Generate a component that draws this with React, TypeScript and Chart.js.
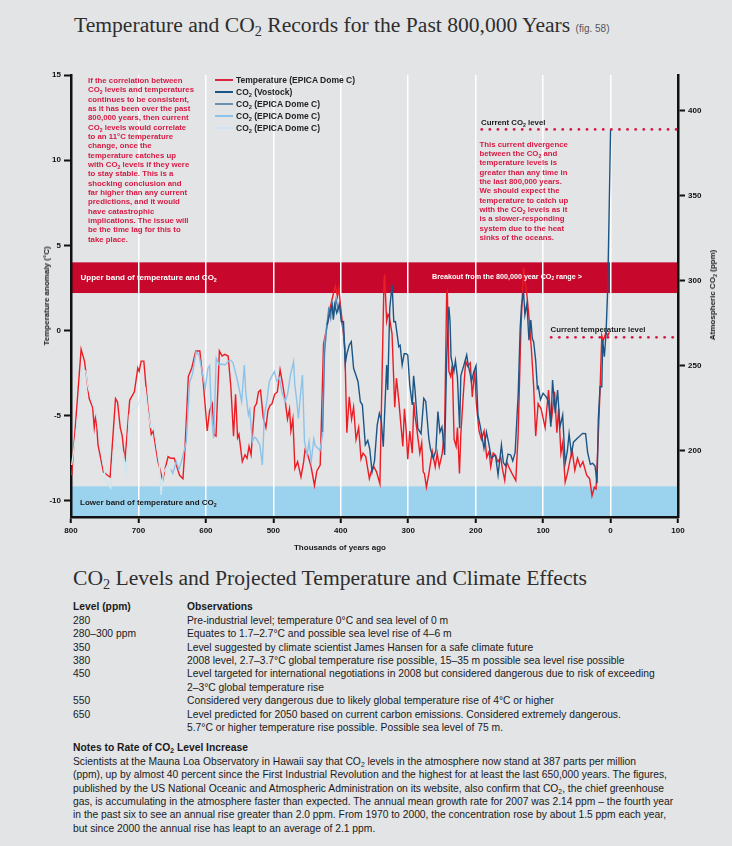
import React, { useEffect, useRef } from "react";
import { Chart, registerables } from "chart.js";

Chart.register(...registerables);

type Pt = [number, number];

// ---- DATA (age in thousands of years ago, value) ----
const temperatureEpica: Pt[] = [
  [799,-8.5],[785,-1.1],[780,-1.8],[773,-4.0],[768,-4.5],[765.5,-5.7],[763,-4.9],[760,-6.7],[752,-8.3],[746,-8.5],[742,-8.6],
  [734,-4.0],[731,-4.2],[727,-5.7],[724,-6.2],[720,-7.7],[713,-4.1],[706,-3.6],[701,-2.2],[699,-2.4],[696,-1.8],[692,-1.8],
  [689,-3.2],[686,-4.5],[681,-6.1],[678,-5.9],[675,-6.7],[671,-7.7],[664,-8.8],[661,-8.2],[656,-7.4],[652,-7.5],[647,-7.5],
  [639,-8.5],[634,-8.7],[631,-6.9],[626,-2.7],[621,-2.2],[615,-1.2],[609,-1.2],[604,-3.0],[598,-5.9],[594.5,-4.7],[590.6,-4.3],
  [588,-6.1],[585,-6.2],[580,-1.2],[576,-1.5],[572,-1.4],[567,-1.5],[563,-3.3],[559,-6.2],[556,-3.75],[553,-6.3],[551,-6.1],
  [546,-7.7],[542,-7.3],[539,-7.5],[536,-6.8],[533,-7.3],[528,-4.5],[525,-4.3],[522,-3.6],[519,-3.5],[515,-5.1],[511,-5.7],
  [508,-4.7],[505,-4.4],[502,-4.3],[498,-3.75],[494,-3.6],[490,-2.3],[486,-3.2],[482.5,-4.1],[479,-5.2],[476,-4.6],[474,-5.9],
  [471,-5.2],[468,-8.1],[464,-7.7],[459,-8.6],[455,-7.7],[453,-7.0],[449,-7.3],[444,-8.0],[439,-9.1],[435.5,-8.25],[430.5,-7.9],
  [425.6,-0.8],[420.6,0.2],[416,1.3],[410.7,2.2],[408,2.6],[405,2.0],[403,2.5],[398,0.55],[394,-1.0],[391,-6.0],[387.4,-3.9],
  [384,-5.2],[381,-4.5],[377.4,-6.4],[373.5,-5.7],[370,-7.55],[367,-7.2],[363,-7.4],[357.6,-8.7],[355,-8.3],[351,-8.0],[347,-8.3],
  [342,-9.0],[336,2.8],[335,3.3],[332,0.55],[330,0.95],[328,0.8],[324,-0.2],[320,-4.5],[317.5,-2.8],[314,-4.1],[310.5,-5.7],
  [308,-6.8],[305.6,-4.6],[303,-5.9],[300.7,-7.55],[297.7,-5.9],[294,-7.2],[291.7,-4.2],[290,-5.0],[287.5,-5.7],[282.8,-7.2],
  [280,-6.6],[277.8,-8.3],[276,-8.4],[273,-9.2],[269,-8.3],[264.4,-7.1],[260,-8.0],[257,-7.2],[254,-8.0],[249.5,-7.2],[246,-5.7],
  [243,2.2],[242,2.3],[239.7,-2.4],[237,-2.7],[234.7,-2.0],[232,-6.4],[229,-6.8],[227,-5.7],[224,-8.4],[222,-6.1],[218.3,-3.75],
  [214.8,-1.8],[212,-2.1],[208,-1.9],[205,-3.9],[201.5,-2.3],[199,-4.3],[195,-5.9],[191.5,-6.4],[187.5,-5.9],[183.6,-7.45],
  [180,-7.1],[177.7,-8.0],[174,-7.2],[171,-7.3],[167,-7.7],[162.8,-7.45],[160.5,-8.1],[156.9,-8.8],[154,-7.7],[151,-8.0],
  [146,-8.4],[140.5,-8.8],[137,-6.1],[133,0.0],[129,3.7],[127,3.0],[124,2.1],[121,0.8],[117.2,-1.2],[114,-3.3],[111,-6.2],
  [107.4,-4.3],[106,-4.4],[103,-4.6],[97,-5.7],[92,-3.5],[88,-5.4],[83,-3.6],[79.6,-6.0],[77,-4.6],[73.6,-7.2],[71,-6.6],
  [67.3,-8.9],[64,-8.4],[61,-7.8],[57,-7.0],[53,-8.2],[49,-7.5],[45,-8.0],[41,-7.7],[35.4,-8.5],[31,-8.7],[27.5,-9.7],[24,-9.2],
  [21.5,-9.3],[19,-7.0],[15.6,-3.5],[13,-0.3],[11,-0.6],[6.7,-0.1],[4,-0.3],[1.8,-0.1],
];

const co2Vostok: Pt[] = [
  [420,274],[417,279.8],[413,285.7],[411,277],[409,286],[406,281],[402,285.7],[399,275.9],[396,276],[393.3,251.4],[391,257],
  [387.4,262.2],[384.4,264.1],[381,248.5],[378,245],[374.4,240.6],[371,228.8],[368,227],[363.6,203.4],[360,206],[357,201],
  [353.6,187.6],[350,194],[346,215.1],[342.8,222],[340,218],[337,202.4],[332,250.4],[330.4,235.7],[327.4,283.8],[323.9,297.5],
  [321.4,275.9],[319,276],[314,261.2],[312,262],[309,250.4],[306,257],[303,257],[300.7,256.3],[297.7,238.6],[294,226.9],
  [292,244],[290,236],[285.8,213.2],[281,210],[276.9,230.8],[274,229],[269.5,207.3],[267,201],[262.9,195.5],[259,200],
  [256,223],[253,211],[250,214],[246,197.5],[243,254.4],[239.7,284.7],[238,276],[236.5,255],[232.3,246.5],[230,253],[227,243],
  [223.8,213.2],[222,244],[217.4,250.4],[213.3,256.3],[211,250],[208,245],[206.3,240.6],[203,246],[199.5,250],[196.6,221],
  [193,214],[187.7,201.4],[184,211],[180.5,204],[176.7,195.5],[173,197],[170.5,197],[166.8,185.7],[161.8,203.4],[159,193],
  [155.5,191],[152,198],[148,197.5],[145,194],[141.5,199],[137,232.8],[134,272],[132,285.7],[129,293.5],[127,280],[124,286.7],
  [121,265],[118.2,276.9],[116,266],[114,264],[111,253],[108.5,236.7],[107,237.6],[104,230],[100,233.8],[96,232],[92,229],
  [88.5,214.1],[86,241.6],[82,222],[78.5,235.7],[75,214],[71,221],[67.3,192.6],[64,200],[61.5,210],[58,198],[55,205],[50,207],
  [41.4,210.2],[37,210],[34,199],[30,192],[26.5,192.6],[23,191],[20,180.8],[18.2,218],[15.6,237.6],[13,237.6],[11.6,265],
  [9.2,255.3],[6.7,269],[4.1,296.5],[1.8,347.5],[0,388.6],
];

const co2EpicaMid: Pt[] = [
  [427,211],[424,258],[421,272],[418,283],[415,278],[413,287],[410,281],[407,289],[404,283],[402,287],[399,276],[396,270],[393,252],
];

const co2EpicaLight: Pt[] = [
  [652,189],[649,186.7],[644,193.5],[640,189],[636,194],[629,205.3],[624,240.6],[620,245],[614.5,258.2],[610,256],[605,245],
  [601,236.7],[597,248.5],[594.5,250],[592,223],[588.5,207.3],[584.7,254.4],[580,250.4],[576,251],[572,250.4],[564.3,253.4],
  [560,252],[554,242.6],[551,237],[547,228.8],[543,250.4],[541,235],[537,221],[535,224],[531,205.3],[528,208],[525,207],
  [520,203.4],[516.3,191.6],[513.3,221],[510,228],[506,240.6],[502,244],[498.4,246.5],[495,241],[491,243],[487.5,234.7],
  [482.5,228.8],[479,233],[474.6,244.5],[470,252.4],[468,238],[466,232],[462.8,219],[460,232],[456.8,244.5],[453.8,205.3],
  [450,197.5],[447,205.3],[443.9,193.5],[440,207],[438,203],[434,201.4],[431,200],[427,209.2],[424,262.2],[420.6,275.9],
];

const co2EpicaPale: Pt[] = [
  [799,191.6],[793,209],[786,235],[783,248.5],[778,246.5],[775,238],[771.5,232.8],[765.5,225],[762,220],[758,209],[755,200],
  [753,193.5],[748,181.8],[741,178],[736,205],[731,203],[726,201.4],[722,198],[718.5,185.7],[713.5,221],[709,224],[702,226],
  [698.6,228.8],[693.7,236.7],[690,237],[686,223],[682,214],[678,216],[674,205.3],[669,191.6],[666.5,174],[663,187],
  [656.5,191.6],[652,189],
];

const ageTicks = [800, 700, 600, 500, 400, 300, 200, 100, 0, -100];
const tempTicks = [-10, -5, 0, 5, 10, 15];
const co2Ticks = [200, 250, 300, 350, 400];
const upperBand: [number, number] = [2.2, 4.0];
const lowerBand: [number, number] = [-10.95, -9.15];
const currentCo2Level = 389;
const currentCo2From = 191;
const currentTempLevel = -0.4;
const currentTempFrom = 88;

const SANS = '"Liberation Sans", Arial, Helvetica, sans-serif';
const SERIF = '"Liberation Serif", "DejaVu Serif", serif';
const RED_TXT = "#d61a43";
const COLORS = {
  temp: "#ec1c24",
  vostok: "#1c5585",
  mid: "#4f82b2",
  light: "#8cc3ea",
  pale: "#cfe6ee",
};

const toXY = (pts: Pt[]) => pts.map(([x, y]) => ({ x, y }));

const bandPlugin = {
  id: "bands",
  beforeDraw(chart: any) {
    const { ctx, chartArea: a, scales } = chart;
    const y = scales.y;
    ctx.save();
    const u1 = y.getPixelForValue(upperBand[1]);
    const u2 = y.getPixelForValue(upperBand[0]);
    ctx.fillStyle = "#c8072c";
    ctx.fillRect(a.left, u1, a.right - a.left, u2 - u1);
    const l1 = y.getPixelForValue(lowerBand[1]);
    const l2 = y.getPixelForValue(lowerBand[0]);
    ctx.fillStyle = "#9bd3ee";
    ctx.fillRect(a.left, l1, a.right - a.left, l2 - l1);
    ctx.restore();
  },
  afterDatasetsDraw(chart: any) {
    const { ctx, chartArea: a, scales } = chart;
    const dots = (x0: number, yy: number) => {
      ctx.fillStyle = "#d61a43";
      for (let x = x0; x <= a.right - 1; x += 8.1) {
        ctx.beginPath();
        ctx.arc(x, yy, 1.4, 0, Math.PI * 2);
        ctx.fill();
      }
    };
    ctx.save();
    dots(scales.x.getPixelForValue(currentCo2From), scales.y1.getPixelForValue(currentCo2Level));
    dots(scales.x.getPixelForValue(currentTempFrom), scales.y.getPixelForValue(currentTempLevel));
    ctx.restore();
  },
};

const S = () => (
  <sub style={{ fontSize: "0.66em", verticalAlign: "-0.3em", lineHeight: 0 }}>2</sub>
);

const abs = (left: number, top: number, extra: React.CSSProperties = {}): React.CSSProperties => ({
  position: "absolute",
  left,
  top,
  whiteSpace: "nowrap",
  ...extra,
});

function ChartCanvas() {
  const ref = useRef<HTMLCanvasElement | null>(null);
  useEffect(() => {
    if (!ref.current) return;
    const tickFont = { family: SANS, size: 8, weight: "bold" as const };
    const chart = new Chart(ref.current, {
      type: "line",
      data: {
        datasets: [
          { label: "CO2 (Vostock)", data: toXY(co2Vostok), yAxisID: "y1", borderColor: COLORS.vostok, order: 1 },
          { label: "CO2 (EPICA Dome C) a", data: toXY(co2EpicaMid), yAxisID: "y1", borderColor: COLORS.mid, order: 2 },
          { label: "CO2 (EPICA Dome C) b", data: toXY(co2EpicaLight), yAxisID: "y1", borderColor: COLORS.light, order: 3 },
          { label: "CO2 (EPICA Dome C) c", data: toXY(co2EpicaPale), yAxisID: "y1", borderColor: COLORS.pale, order: 4 },
          { label: "Temperature (EPICA Dome C)", data: toXY(temperatureEpica), yAxisID: "y", borderColor: COLORS.temp, order: 5 },
        ] as any,
      },
      options: {
        responsive: false,
        animation: false,
        devicePixelRatio: 1,
        layout: { padding: { top: 15, left: 0, right: 0, bottom: 0 } },
        plugins: { legend: { display: false }, tooltip: { enabled: false } },
        elements: {
          point: { radius: 0 },
          line: { tension: 0, borderWidth: 1.4, fill: false },
        },
        scales: {
          x: {
            type: "linear",
            reverse: true,
            min: -100,
            max: 800,
            afterBuildTicks: (s: any) => {
              s.ticks = ageTicks.map((v) => ({ value: v }));
            },
            afterFit: (s: any) => {
              s.height = 43;
            },
            ticks: {
              callback: (v: any) => String(Math.abs(Number(v))),
              font: tickFont,
              color: "#111",
              padding: 3,
              maxRotation: 0,
              autoSkip: false,
            },
            grid: {
              color: "#ffffff",
              lineWidth: 1.5,
              tickColor: "#111",
              tickWidth: 2,
              tickLength: 6,
              drawOnChartArea: true,
            },
            border: { display: true, color: "#111", width: 2.5 },
          },
          y: {
            type: "linear",
            position: "left",
            min: -10.95,
            max: 15,
            afterBuildTicks: (s: any) => {
              s.ticks = tempTicks.map((v) => ({ value: v }));
            },
            afterFit: (s: any) => {
              s.width = 71;
            },
            ticks: { font: tickFont, color: "#111", padding: 3 },
            grid: { drawOnChartArea: false, color: "#111", tickColor: "#111", tickWidth: 2, tickLength: 7 },
            border: { display: true, color: "#111", width: 2.5 },
          },
          y1: {
            type: "linear",
            position: "right",
            min: 161,
            max: 421,
            afterBuildTicks: (s: any) => {
              s.ticks = co2Ticks.map((v) => ({ value: v }));
            },
            afterFit: (s: any) => {
              s.width = 54;
            },
            ticks: { font: tickFont, color: "#111", padding: 3 },
            grid: { drawOnChartArea: false, color: "#111", tickColor: "#111", tickWidth: 2, tickLength: 7 },
            border: { display: true, color: "#111", width: 2.5 },
          },
        },
      } as any,
      plugins: [bandPlugin],
    });
    return () => chart.destroy();
  }, []);
  return <canvas ref={ref} width={732} height={500} style={{ position: "absolute", left: 0, top: 60, width: 732, height: 500 }} />;
}

const legendItems: { color: string; label: React.ReactNode }[] = [
  { color: "#d9283f", label: <>Temperature (EPICA Dome C)</> },
  { color: COLORS.vostok, label: <>CO<S /> (Vostock)</> },
  { color: "#6a90b4", label: <>CO<S /> (EPICA Dome C)</> },
  { color: COLORS.light, label: <>CO<S /> (EPICA Dome C)</> },
  { color: "#d2e2f0", label: <>CO<S /> (EPICA Dome C)</> },
];

export default function App() {
  const small: React.CSSProperties = { fontFamily: SANS, fontWeight: "bold", fontSize: 7.8, lineHeight: "9.33px" };
  const label8: React.CSSProperties = { fontFamily: SANS, fontWeight: "bold", fontSize: 8, lineHeight: "10px" };
  const body: React.CSSProperties = { fontFamily: SANS, fontSize: 10.3, lineHeight: "13.4px", color: "#1a1a1a" };
  const rows: [string, React.ReactNode][] = [
    ["280", <>Pre-industrial level; temperature 0°C and sea level of 0 m</>],
    ["280–300 ppm", <>Equates to 1.7–2.7°C and possible sea level rise of 4–6 m</>],
    ["350", <>Level suggested by climate scientist James Hansen for a safe climate future</>],
    ["380", <>2008 level, 2.7–3.7°C global temperature rise possible, 15–35 m possible sea level rise possible</>],
    ["450", <>Level targeted for international negotiations in 2008 but considered dangerous due to risk of exceeding<br />2–3°C global temperature rise</>],
    ["550", <>Considered very dangerous due to likely global temperature rise of 4°C or higher</>],
    ["650", <>Level predicted for 2050 based on current carbon emissions. Considered extremely dangerous.<br />5.7°C or higher temperature rise possible. Possible sea level of 75 m.</>],
  ];
  return (
    <div style={{ position: "absolute", left: 0, top: 0, width: 732, height: 846, background: "#e3e4e6", overflow: "hidden", color: "#1a1a1a" }}>
      <div style={abs(74, 12, { fontFamily: SERIF, fontSize: 21.6, lineHeight: "26px", color: "#2e2e2e" })}>
        Temperature and CO<S /> Records for the Past 800,000 Years{" "}
        <span style={{ fontFamily: '"Liberation Sans Narrow", "Liberation Sans", sans-serif', fontSize: 10, color: "#555" }}>(fig. 58)</span>
      </div>

      <ChartCanvas />

      {/* legend */}
      <div style={abs(215, 74, { fontFamily: SANS, fontWeight: "bold", fontSize: 8.5, lineHeight: "12px", color: "#222" })}>
        {legendItems.map((it, i) => (
          <div key={i} style={{ display: "flex", alignItems: "center", height: 12 }}>
            <span style={{ display: "inline-block", width: 18, height: 2, background: it.color, marginRight: 3 }} />
            <span>{it.label}</span>
          </div>
        ))}
      </div>

      {/* left annotation */}
      <div style={abs(88, 76, { ...small, color: RED_TXT })}>
        If the correlation between<br />
        CO<S /> levels and temperatures<br />
        continues to be consistent,<br />
        as it has been over the past<br />
        800,000 years, then current<br />
        CO<S /> levels would correlate<br />
        to an 11°C temperature<br />
        change, once the<br />
        temperature catches up<br />
        with CO<S /> levels if they were<br />
        to stay stable. This is a<br />
        shocking conclusion and<br />
        far higher than any current<br />
        predictions, and it would<br />
        have catastrophic<br />
        implications. The issue will<br />
        be the time lag for this to<br />
        take place.
      </div>

      {/* right annotation */}
      <div style={abs(481, 117.6, { ...small, color: "#1a1a1a" })}>Current CO<S /> level</div>
      <div style={abs(479.5, 139.6, { ...small, color: RED_TXT })}>
        This current divergence<br />
        between the CO<S /> and<br />
        temperature levels is<br />
        greater than any time in<br />
        the last 800,000 years.<br />
        We should expect the<br />
        temperature to catch up<br />
        with the CO<S /> levels as it<br />
        is a slower-responding<br />
        system due to the heat<br />
        sinks of the oceans.
      </div>
      <div style={abs(550.5, 325.3, { ...small, color: "#1a1a1a" })}>Current temperature level</div>

      {/* band labels */}
      <div style={abs(80.5, 272.5, { ...label8, color: "#ffffff" })}>Upper band of temperature and CO<S /></div>
      <div style={abs(432, 272, { ...label8, fontSize: 7.2, color: "#ffffff" })}>Breakout from the 800,000 year CO<S /> range &gt;</div>
      <div style={abs(80, 498, { ...label8, color: "#1a1a1a" })}>Lower band of temperature and CO<S /></div>

      {/* axis titles */}
      <div style={abs(47, 296, { ...label8, transform: "translate(-50%,-50%) rotate(-90deg)" })}>
        Temperature anomaly (°C)
      </div>
      <div style={abs(713, 295, { ...label8, transform: "translate(-50%,-50%) rotate(-90deg)" })}>
        Atmospheric CO<S /> (ppm)
      </div>
      <div style={abs(340, 548, { ...label8, transform: "translate(-50%,-50%)" })}>
        Thousands of years ago
      </div>

      {/* lower section */}
      <div style={abs(73, 565, { fontFamily: SERIF, fontSize: 21.6, lineHeight: "26px", color: "#2e2e2e" })}>
        CO<S /> Levels and Projected Temperature and Climate Effects
      </div>

      <div style={abs(73, 600.3, body)}>
        <div style={{ display: "flex", fontWeight: "bold" }}>
          <div style={{ width: 114 }}>Level (ppm)</div>
          <div>Observations</div>
        </div>
        {rows.map(([lvl, obs], i) => (
          <div key={i} style={{ display: "flex" }}>
            <div style={{ width: 114 }}>{lvl}</div>
            <div>{obs}</div>
          </div>
        ))}
      </div>

      <div style={abs(73, 741.3, body)}>
        <div style={{ fontWeight: "bold" }}>Notes to Rate of CO<S /> Level Increase</div>
        Scientists at the Mauna Loa Observatory in Hawaii say that CO<S /> levels in the atmosphere now stand at 387 parts per million<br />
        (ppm), up by almost 40 percent since the First Industrial Revolution and the highest for at least the last 650,000 years. The figures,<br />
        published by the US National Oceanic and Atmospheric Administration on its website, also confirm that CO<S />, the chief greenhouse<br />
        gas, is accumulating in the atmosphere faster than expected. The annual mean growth rate for 2007 was 2.14 ppm – the fourth year<br />
        in the past six to see an annual rise greater than 2.0 ppm. From 1970 to 2000, the concentration rose by about 1.5 ppm each year,<br />
        but since 2000 the annual rise has leapt to an average of 2.1 ppm.
      </div>
    </div>
  );
}
